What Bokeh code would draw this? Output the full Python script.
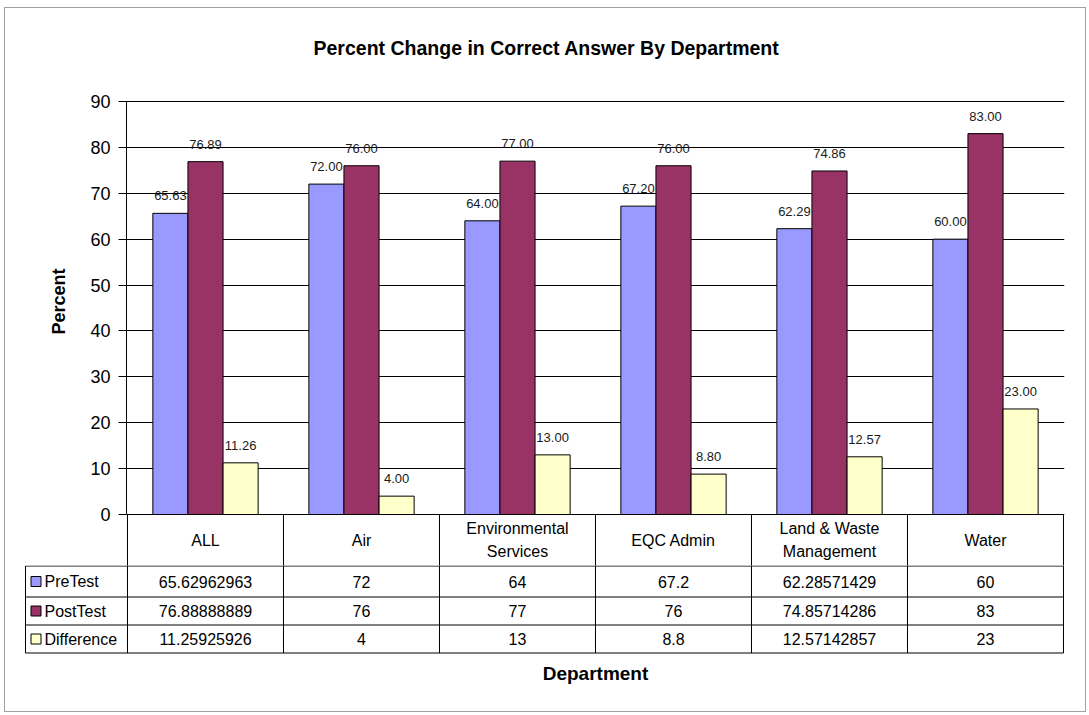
from bokeh.plotting import figure
from bokeh.models import Range1d, FixedTicker, ColumnDataSource, LabelSet
from bokeh.embed import file_html
from bokeh.resources import INLINE
from bokeh.core.properties import value

# ---------------- data ----------------
departments = ["ALL", "Air", "Environmental Services", "EQC Admin",
               "Land & Waste Management", "Water"]
dept_labels = ["ALL", "Air", "Environmental\nServices", "EQC Admin",
               "Land & Waste\nManagement", "Water"]
series_names = ["PreTest", "PostTest", "Difference"]
pretest = [65.62962963, 72, 64, 67.2, 62.28571429, 60]
posttest = [76.88888889, 76, 77, 76, 74.85714286, 83]
difference = [11.25925926, 4, 13, 8.8, 12.57142857, 23]
y_ticks = [0, 10, 20, 30, 40, 50, 60, 70, 80, 90]
series_colors = ["#9999FF", "#993366", "#FFFFCC"]

title_text = "Percent Change in Correct Answer By Department"
y_title = "Percent"
x_title = "Department"

# ---------------- layout constants (pixels) ----------------
FONT = "Liberation Sans"
BORDER = "1px solid #a0a0a0"
PX_X = 156.0             # px per category
PX_Y = (514 - 101) / 90  # px per percent unit
X0 = 127                 # page x of category 0
Y0 = 514                 # page y of value 0
FRAME_TOP = 36           # page y of top figure frame top

n = len(departments)
centers = [i + 0.5 for i in range(n)]
bar_w = 0.225
offsets = [-bar_w, 0.0, bar_w]
all_series = [pretest, posttest, difference]

# ---------------- top figure: bars + header row ----------------
TOP_W, TOP_H = 1082, 558      # content box, page x 5..1086, y 8..565
p = figure(width=TOP_W, height=TOP_H,
           x_range=Range1d(-1 / PX_X, 937 / PX_X),
           y_range=Range1d(-(566 - Y0) / PX_Y, (Y0 - FRAME_TOP) / PX_Y),
           output_backend="svg", toolbar_location=None,
           min_border_left=121, min_border_right=23,
           min_border_top=FRAME_TOP - 8, min_border_bottom=0,
           styles={"margin-left": "4px", "margin-top": "7px",
                   "border-top": BORDER, "border-left": BORDER,
                   "border-right": BORDER})
p.outline_line_color = None
p.background_fill_color = "white"
p.border_fill_color = "white"

p.xaxis.visible = False
p.xgrid.visible = False
yax = p.yaxis[0]
yax.ticker = FixedTicker(ticks=y_ticks)
yax.bounds = (0, 90)
yax.axis_label = y_title
yax.axis_label_text_font = FONT
yax.axis_label_text_font_size = "18px"
yax.axis_label_text_font_style = "bold"
yax.axis_label_text_color = "black"
yax.axis_label_standoff = 18
yax.major_label_text_font = FONT
yax.major_label_text_font_size = "18px"
yax.major_label_text_color = "black"
yax.major_label_standoff = 8
yax.major_tick_out = 8
yax.major_tick_in = 0
yax.minor_tick_line_color = None
yax.axis_line_color = "black"
yax.major_tick_line_color = "black"
p.ygrid.grid_line_color = "black"
p.ygrid.grid_line_width = 1

# title
p.text(x=[(546 - X0) / PX_X], y=[(Y0 - 47) / PX_Y], text=[title_text],
       text_align="center", text_baseline="middle",
       text_font=value(FONT), text_font_size="19.5px", text_font_style="bold",
       text_color="black")

for k, (vals, name, col) in enumerate(zip(all_series, series_names, series_colors)):
    src = ColumnDataSource(dict(
        x=[c + offsets[k] for c in centers],
        top=vals,
        label=[f"{v:.2f}" for v in vals],
    ))
    p.vbar(x="x", top="top", bottom=0, width=bar_w, source=src,
           fill_color=col, line_color="black", line_width=1)
    p.add_layout(LabelSet(x="x", y="top", text="label", source=src,
                          text_align="center", text_baseline="bottom",
                          y_offset=13, text_font=value(FONT),
                          text_font_size="13px", text_color="#1a1a1a"))

# header row (category names) below the zero line
hdr_bottom = -(566 - Y0) / PX_Y
p.segment(x0=list(range(0, n + 1)), y0=[0] * (n + 1),
          x1=list(range(0, n + 1)), y1=[hdr_bottom] * (n + 1),
          line_color="black", line_width=1)
p.text(x=centers, y=[-(539.5 - Y0) / PX_Y] * n, text=dept_labels,
       text_align="center", text_baseline="middle",
       text_font=value(FONT), text_font_size="16px", text_color="black",
       text_line_height=1.35)

# ---------------- bottom figure: data table ----------------
BOT_W, BOT_H = 1082, 147      # content box, page x 5..1086, y 566..712
q = figure(width=BOT_W, height=BOT_H,
           x_range=Range1d((5 - X0) / PX_X, (5 + BOT_W - X0) / PX_X),
           y_range=Range1d(566 + BOT_H - Y0 - 0.5, 566 - Y0 - 0.5),
           output_backend="svg", toolbar_location=None,
           min_border_left=0, min_border_right=0,
           min_border_top=0, min_border_bottom=0,
           styles={"margin-left": "4px",
                   "border-left": BORDER, "border-right": BORDER,
                   "border-bottom": BORDER})
q.axis.visible = False
q.grid.visible = False
q.outline_line_color = None
q.background_fill_color = "white"
q.border_fill_color = "white"

x_leg = (25 - X0) / PX_X
row_lines = [52, 83, 111, 139]     # px below the zero line
row_centers = [67.5, 97, 125]
q.segment(x0=[x_leg] * len(row_lines), y0=row_lines,
          x1=[n] * len(row_lines), y1=row_lines,
          line_color="black", line_width=1)
vx = [x_leg] + list(range(0, n + 1))
q.segment(x0=vx, y0=[52 if v < 0 else 51 for v in vx], x1=vx, y1=[139] * len(vx),
          line_color="black", line_width=1)

q.scatter(x=[(35.5 - X0) / PX_X] * 3, y=row_centers, marker="square", size=10,
          fill_color=series_colors, line_color="black", line_width=1)
q.text(x=[(44 - X0) / PX_X] * 3, y=row_centers, text=series_names,
       text_align="left", text_baseline="middle",
       text_font=value(FONT), text_font_size="16px", text_color="black")

for vals, yc in zip(all_series, row_centers):
    q.text(x=centers, y=[yc] * n, text=[f"{v:.10g}" for v in vals],
           text_align="center", text_baseline="middle",
           text_font=value(FONT), text_font_size="16px", text_color="black")

q.text(x=[n / 2], y=[673 - Y0], text=[x_title],
       text_align="center", text_baseline="middle",
       text_font=value(FONT), text_font_size="19px", text_font_style="bold",
       text_color="black")

open("out.html", "w").write(file_html([p, q], INLINE))
